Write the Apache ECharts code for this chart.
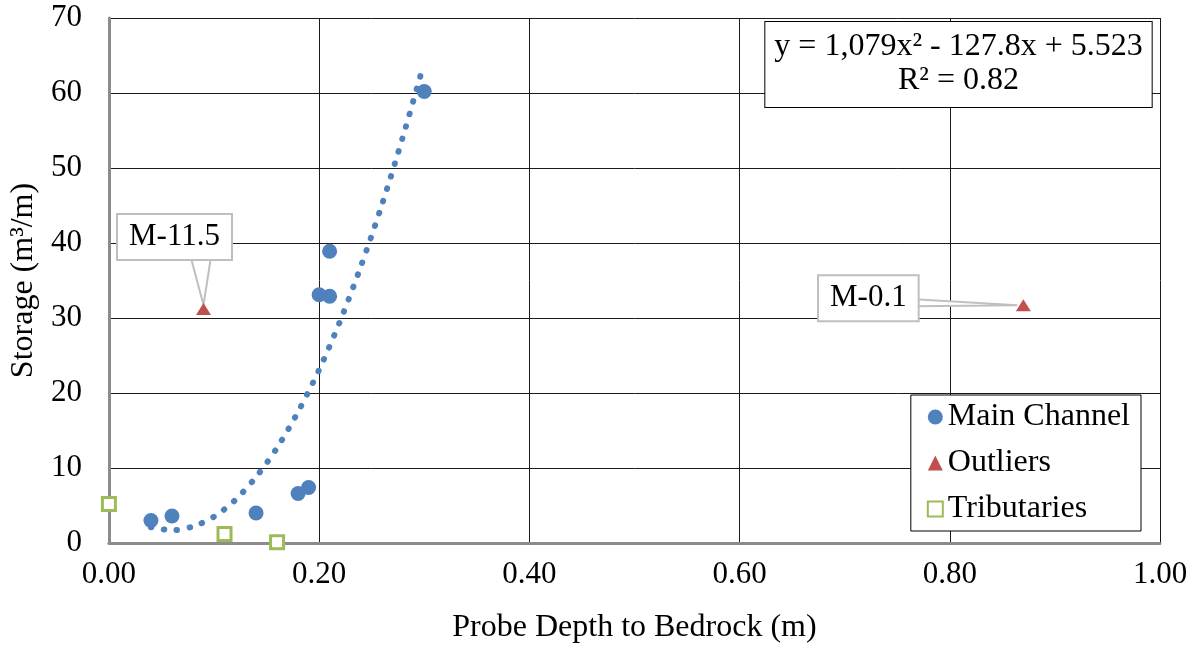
<!DOCTYPE html>
<html>
<head>
<meta charset="utf-8">
<script src="https://cdn.jsdelivr.net/npm/echarts@6/dist/echarts.min.js"></script>
<style>
html,body{margin:0;padding:0;background:#fff;}
#chart{width:1200px;height:649px;}
</style>
</head>
<body>
<div id="chart"></div>
<script>
// ---- data ----
const mainX = [0.04, 0.06, 0.14, 0.18, 0.19, 0.20, 0.21, 0.21, 0.30];
const mainY = [3.0, 3.6, 4.0, 6.6, 7.4, 33.1, 38.9, 32.9, 60.2];
const outX = [0.09, 0.87];
const outY = [31.2, 31.7];
const outLabels = ['M-11.5', 'M-0.1'];
const tribX = [0.00, 0.11, 0.16];
const tribY = [5.2, 1.2, 0.1];
const trendX = [0.04, 0.06, 0.08, 0.10, 0.12, 0.14, 0.16, 0.18, 0.20, 0.22, 0.24, 0.26, 0.28, 0.297];
const trendY = [2.1, 1.7, 2.2, 3.5, 5.7, 8.8, 12.7, 17.5, 23.1, 29.6, 37.0, 45.2, 54.3, 62.6];
const xTicks = [0.0, 0.2, 0.4, 0.6, 0.8, 1.0];
const yTicks = [0, 10, 20, 30, 40, 50, 60, 70];
const seriesNames = ['Main Channel', 'Outliers', 'Tributaries'];
const equationText = 'y = 1,079x\u00B2 - 127.8x + 5.523\nR\u00B2 = 0.82';
const xTitle = 'Probe Depth to Bedrock (m)';
const yTitle = 'Storage (m\u00B3/m)';

const FONT = 'Liberation Serif';
const BLUE = '#4F81BD', RED = '#C0504D', GREEN = '#9BBB59';

const zip = (a, b) => a.map((v, i) => [v, b[i]]);
// label placement (pixel offsets from marker) for the callouts
const calloutOffsets = [[-29, -72], [-155, -7]];
const wedges = [
  [[-12, -49], [7, -49], [0, -4]],
  [[-108, -6], [-108, 1], [-6, 0]]
];

const chart = echarts.init(document.getElementById('chart'), null, {renderer: 'canvas'});
const option = {
  animation: false,
  backgroundColor: '#fff',
  textStyle: {fontFamily: FONT},
  grid: {left: 108, right: 40, top: 18, bottom: 103, containLabel: false},
  xAxis: {
    type: 'value', min: xTicks[0], max: xTicks[xTicks.length - 1], interval: 0.2,
    name: xTitle, nameLocation: 'middle', nameGap: 69,
    nameTextStyle: {fontFamily: FONT, fontSize: 32, color: '#000'},
    axisLine: {show: true, onZero: false, lineStyle: {color: '#8c8c8c', width: 3}},
    axisTick: {show: false},
    axisLabel: {fontFamily: FONT, fontSize: 31, color: '#000', margin: 16,
      formatter: v => v.toFixed(2)},
    splitLine: {show: true, lineStyle: {color: '#1a1a1a', width: 1}}
  },
  yAxis: {
    type: 'value', min: yTicks[0], max: yTicks[yTicks.length - 1], interval: 10,
    name: yTitle, nameLocation: 'middle', nameGap: 62,
    nameTextStyle: {fontFamily: FONT, fontSize: 32, color: '#000'},
    axisLine: {show: true, onZero: false, lineStyle: {color: '#8c8c8c', width: 3}},
    axisTick: {show: false},
    axisLabel: {fontFamily: FONT, fontSize: 31, color: '#000', margin: 27},
    splitLine: {show: true, lineStyle: {color: '#1a1a1a', width: 1}}
  },
  legend: {
    orient: 'vertical', right: 59, top: 395,
    data: seriesNames,
    backgroundColor: '#fff', borderColor: '#000', borderWidth: 1,
    padding: [6, 11, 6, 16], itemGap: 14, itemWidth: 15, itemHeight: 15,
    textStyle: {fontFamily: FONT, fontSize: 32, color: '#000'}
  },
  series: [
    {
      name: seriesNames[0], type: 'scatter', symbol: 'circle', symbolSize: 15,
      itemStyle: {color: BLUE, opacity: 1},
      data: zip(mainX, mainY), z: 3
    },
    {
      name: seriesNames[1], type: 'scatter', symbol: 'triangle', symbolSize: [15, 12],
      itemStyle: {color: RED, opacity: 1},
      data: outX.map((x, i) => ({
        value: [x, outY[i]], name: outLabels[i],
        label: {offset: calloutOffsets[i]}
      })),
      label: {
        show: true, formatter: '{b}', position: 'inside',
        fontFamily: FONT, fontSize: 31, color: '#000', lineHeight: 32,
        backgroundColor: '#fff', borderColor: '#bfbfbf', borderWidth: 2,
        padding: [6, 11, 6, 11]
      },
      z: 3
    },
    {
      name: seriesNames[2], type: 'scatter', symbol: 'rect', symbolSize: 13,
      itemStyle: {color: '#fff', borderColor: GREEN, borderWidth: 3, opacity: 1},
      data: zip(tribX, tribY), z: 3
    },
    {
      name: 'trend', type: 'line', smooth: 0.3, showSymbol: false, symbol: 'none',
      lineStyle: {color: BLUE, width: 6, type: [0.5, 12.5], cap: 'round'},
      data: zip(trendX, trendY), z: 2, silent: true
    }
  ]
};
chart.setOption(option);

function drawGraphics() {
  const els = [];
  outX.forEach((x, i) => {
    const p = chart.convertToPixel({seriesIndex: 1}, [x, outY[i]]);
    els.push({
      type: 'polygon', z: 1, silent: true,
      shape: {points: wedges[i].map(d => [p[0] + d[0], p[1] + d[1]])},
      style: {fill: '#fff', stroke: '#bfbfbf', lineWidth: 2}
    });
  });
  els.push({
    type: 'text', z: 100, silent: true, x: 958.5, y: 22,
    style: {
      text: equationText, fontFamily: FONT, fontSize: 32, fill: '#000',
      align: 'center', verticalAlign: 'top', lineHeight: 34,
      backgroundColor: '#fff', borderColor: '#000', borderWidth: 1,
      padding: [8, 9, 9, 9]
    }
  });
  chart.setOption({graphic: {elements: els}});
}
drawGraphics();
</script>
</body>
</html>
